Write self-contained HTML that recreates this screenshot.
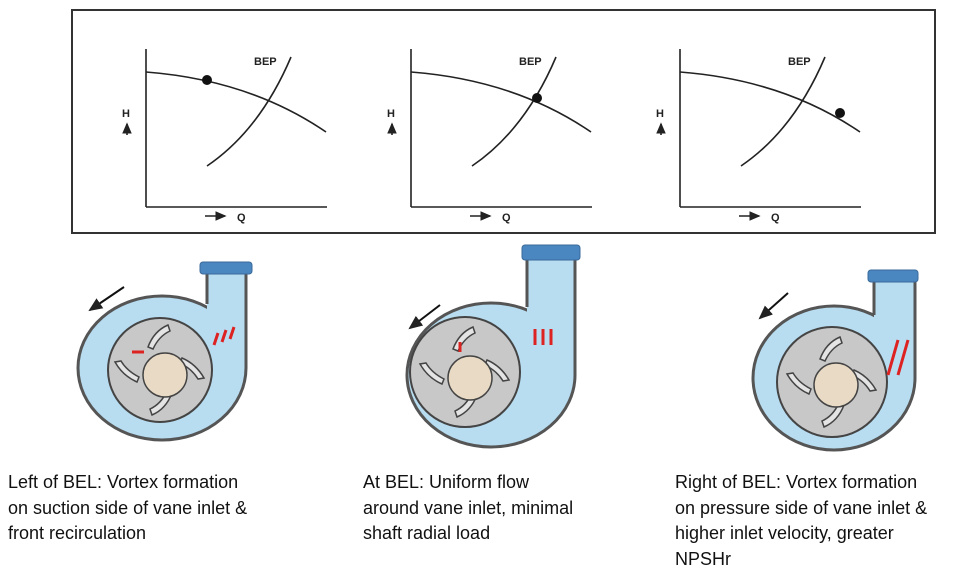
<!DOCTYPE html>
<html><head><style>
body{margin:0;background:#fff;width:980px;height:578px;overflow:hidden;font-family:"Liberation Sans",sans-serif}
.t{position:absolute;font-size:18px;line-height:25.5px;color:#111}
</style></head><body>
<svg width="980" height="578" style="position:absolute;left:0;top:0">
<defs>
<marker id="ah" markerWidth="8" markerHeight="8" refX="6" refY="4" orient="auto"><path d="M0,1 L7,4 L0,7 z" fill="#222"/></marker>
<g id="graph">
<line x1="146" y1="49" x2="146" y2="207" stroke="#222" stroke-width="1.6"/>
<line x1="146" y1="207" x2="327" y2="207" stroke="#222" stroke-width="1.6"/>
<path d="M146,72 Q250,80 326,132" fill="none" stroke="#222" stroke-width="1.6"/>
<path d="M207,166 Q260,130 291,57" fill="none" stroke="#222" stroke-width="1.6"/>
<text x="254" y="65" font-size="11" font-weight="bold" fill="#222" font-family="Liberation Sans">BEP</text>
<text x="122" y="117" font-size="11" font-weight="bold" fill="#222" font-family="Liberation Sans">H</text>
<line x1="127" y1="135" x2="127" y2="124" stroke="#222" stroke-width="1.6" marker-end="url(#ah)"/>
<line x1="205" y1="216" x2="225" y2="216" stroke="#222" stroke-width="1.6" marker-end="url(#ah)"/>
<text x="237" y="221" font-size="11" font-weight="bold" fill="#222" font-family="Liberation Sans">Q</text>
</g>
<g id="vanes" fill="#e4e4e4" stroke="#444" stroke-width="1.5">
<path d="M-45,-8 q8,14 22,20 l2,-5 q-12,-6 -18,-16 z"/>
<path d="M8,-45 q-14,6 -20,22 l5,2 q6,-13 17,-18 z"/>
<path d="M44,8 q-8,-14 -22,-20 l-2,5 q12,6 18,16 z"/>
<path d="M-8,45 q14,-6 20,-22 l-5,-2 q-6,13 -17,18 z"/>
</g>
</defs>
<rect x="72" y="10" width="863" height="223" fill="#fff" stroke="#333" stroke-width="2"/>
<use href="#graph"/>
<circle cx="207" cy="80" r="5" fill="#111"/>
<use href="#graph" x="265"/>
<circle cx="537" cy="98" r="5" fill="#111"/>
<use href="#graph" x="534"/>
<circle cx="840" cy="113" r="5" fill="#111"/>

<!-- pump 1 -->
<g stroke="#555" stroke-width="3">
<ellipse cx="162" cy="368" rx="84" ry="72" fill="#b8dcf0"/>
<rect x="207" y="270" width="39" height="98" fill="#b8dcf0" stroke="none"/>
<line x1="207" y1="270" x2="207" y2="304"/><line x1="246" y1="270" x2="246" y2="368"/>
<rect x="200" y="262" width="52" height="12" rx="3" fill="#4a86c0" stroke="#3a6a9a" stroke-width="1"/>
<circle cx="160" cy="370" r="52" fill="#c8c8c8" stroke="#444" stroke-width="2"/>
</g>
<use href="#vanes" x="160" y="370"/>
<circle cx="165" cy="375" r="22" fill="#e8dac4" stroke="#444" stroke-width="1.5"/>
<line x1="124" y1="287" x2="90" y2="310" stroke="#111" stroke-width="2" marker-end="url(#ah)"/>
<path d="M132,352 h12 M214,345 l4,-12 M222,342 l4,-12 M230,339 l4,-12" stroke="#d22" stroke-width="3"/>

<!-- pump 2 -->
<g stroke="#555" stroke-width="3">
<ellipse cx="491" cy="375" rx="84" ry="72" fill="#b8dcf0"/>
<rect x="527" y="255" width="48" height="120" fill="#b8dcf0" stroke="none"/>
<line x1="527" y1="255" x2="527" y2="307"/><line x1="575" y1="255" x2="575" y2="375"/>
<rect x="522" y="245" width="58" height="15" rx="3" fill="#4a86c0" stroke="#3a6a9a" stroke-width="1"/>
<circle cx="465" cy="372" r="55" fill="#c8c8c8" stroke="#444" stroke-width="2"/>
</g>
<use href="#vanes" x="465" y="372"/>
<circle cx="470" cy="378" r="22" fill="#e8dac4" stroke="#444" stroke-width="1.5"/>
<line x1="440" y1="305" x2="410" y2="328" stroke="#111" stroke-width="2" marker-end="url(#ah)"/>
<path d="M460,352 v-10 M535,345 v-16 M543,345 v-16 M551,345 v-16" stroke="#d22" stroke-width="3"/>

<!-- pump 3 -->
<g stroke="#555" stroke-width="3">
<ellipse cx="834" cy="378" rx="81" ry="72" fill="#b8dcf0"/>
<rect x="874" y="280" width="41" height="98" fill="#b8dcf0" stroke="none"/>
<line x1="874" y1="280" x2="874" y2="315"/><line x1="915" y1="280" x2="915" y2="378"/>
<rect x="868" y="270" width="50" height="12" rx="3" fill="#4a86c0" stroke="#3a6a9a" stroke-width="1"/>
<circle cx="832" cy="382" r="55" fill="#c8c8c8" stroke="#444" stroke-width="2"/>
</g>
<use href="#vanes" x="832" y="382"/>
<circle cx="836" cy="385" r="22" fill="#e8dac4" stroke="#444" stroke-width="1.5"/>
<line x1="788" y1="293" x2="760" y2="318" stroke="#111" stroke-width="2" marker-end="url(#ah)"/>
<path d="M888,375 l10,-35 M898,375 l10,-35" stroke="#d22" stroke-width="3"/>
</svg>
<div class="t" style="left:8px;top:470px">Left of BEL: Vortex formation<br>on suction side of vane inlet &amp;<br>front recirculation</div>
<div class="t" style="left:363px;top:470px">At BEL: Uniform flow<br>around vane inlet, minimal<br>shaft radial load</div>
<div class="t" style="left:675px;top:470px">Right of BEL: Vortex formation<br>on pressure side of vane inlet &amp;<br>higher inlet velocity, greater<br>NPSHr</div>
</body></html>
